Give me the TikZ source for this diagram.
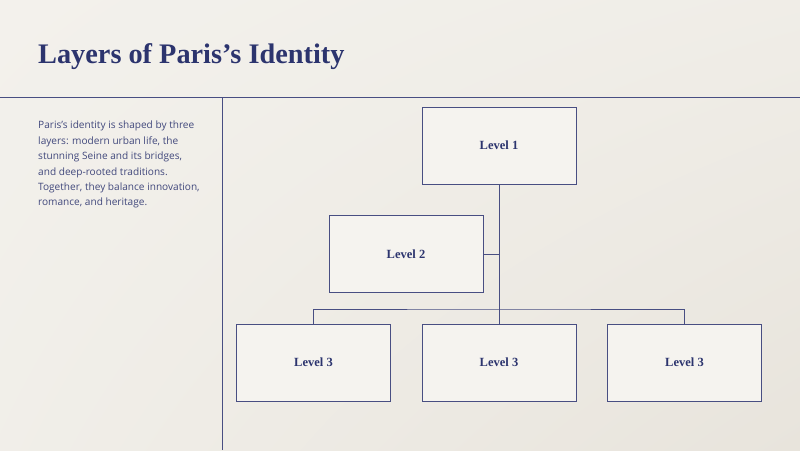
\documentclass[tikz,border=0pt]{standalone}
\usepackage{fontspec}
\setmainfont{Liberation Serif}
\newfontfamily\bodyfont{Open Sans}
\usetikzlibrary{positioning,shadings}
\definecolor{inkblue}{RGB}{44, 52, 110}
\definecolor{lineblue}{RGB}{72, 78, 130}
\definecolor{paperlight}{RGB}{243, 241, 236}
\definecolor{paperdark}{RGB}{232, 228, 220}

\begin{document}
\begin{tikzpicture}[
        x=1pt, y=-1pt,
        levelbox/.style={draw=lineblue, fill=paperlight!85!white, semithick,
            minimum width=154pt, minimum height=77pt,
            text=inkblue, font=\bfseries\fontsize{12.5}{14}\selectfont},
        link/.style={draw=lineblue, thin}
    ]
        % Background
        \shade[upper left=paperlight, upper right=paperlight!70!paperdark,
            lower left=paperlight!80!paperdark, lower right=paperdark]
            (0,0) rectangle (800,450);
        \useasboundingbox (0,0) rectangle (800,450);

        % Title and frame lines
        \node[anchor=base west, inner sep=0pt, text=inkblue,
            font=\bfseries\fontsize{28.3}{32}\selectfont] (title) at (38,63) {Layers of Paris’s Identity};
        \draw[lineblue, semithick] (0,97) -- (800,97);
        \draw[lineblue, semithick] (222,97) -- (222,450);

        % Description
        \node[anchor=north west, inner sep=0pt, align=left, text=inkblue!90!white,
            font=\bodyfont\fontsize{10.1}{15.4}\selectfont] (desc) at (38,121)
            {Paris’s identity is shaped by three\\ layers: modern urban life, the\\ stunning Seine and its bridges,\\ and deep-rooted traditions.\\ Together, they balance innovation,\\ romance, and heritage.};

        % Nodes
        \node[levelbox] (l1) at (499,145.5) {Level 1};
        \node[levelbox] (l2) at (406,254) {Level 2};
        \node[levelbox] (l3a) at (313.5,362.5) {Level 3};
        \node[levelbox] (l3b) at (499,362.5) {Level 3};
        \node[levelbox] (l3c) at (684.5,362.5) {Level 3};
        \coordinate (bar) at (499,309);

        % Connectors
        \draw[link] (l1.south) -- (l3b.north);
        \draw[link] (l2.east) -- (l2.east -| l1.south);
        \draw[link] (l3a.north) |- (bar) -| (l3c.north);

    \end{tikzpicture}
\end{document}
